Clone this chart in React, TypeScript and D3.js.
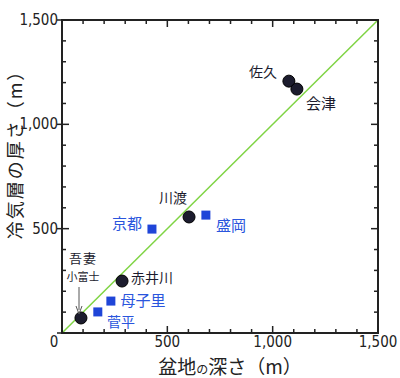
import React from "react";
import * as d3 from "d3";

const circleNames = ["佐久", "会津", "川渡", "赤井川", "吾妻小富士"];
const circleX = [1077, 1115, 603, 285, 90];
const circleY = [1207, 1169, 556, 249, 72];

const squareNames = ["京都", "盛岡", "母子里", "菅平"];
const squareX = [427, 683, 232, 170];
const squareY = [498, 565, 153, 101];

const xTickLabels = ["0", "500", "1,000", "1,500"];
const yTickLabels = ["", "500", "1,000", "1,500"];
const majorTicks = [0, 500, 1000, 1500];
const minorTicks = d3.range(0, 1501, 100);

const W = 400, H = 378;
const left = 62, right = 378, top = 20, bottom = 333;

export default function App() {
  const x = d3.scaleLinear().domain([0, 1500]).range([left, right]);
  const y = d3.scaleLinear().domain([0, 1500]).range([bottom, top]);
  const axisColor = "#222";
  const tickFont = "'Liberation Sans Narrow', 'DejaVu Sans Condensed', 'Liberation Sans', sans-serif";
  const jp = "'Noto Sans CJK JP', sans-serif";
  const blue = "#1f45d8";
  const textBlue = "#2a55dd";
  const ink = "#1c1c2e";

  const labelPos: Record<string, [number, number, number]> = {
    "佐久": [263, 77, 14],
    "会津": [321, 109, 15],
    "川渡": [173, 203, 14],
    "赤井川": [152, 283, 14],
    "京都": [127, 229, 15],
    "盛岡": [231, 231, 15],
    "母子里": [143, 306, 15],
    "菅平": [121, 327, 14],
  };

  return (
    <svg width={W} height={H} style={{ position: "absolute", left: 0, top: 0, background: "#fff" }}>
      {/* diagonal */}
      <line x1={x(0)} y1={y(0)} x2={x(1500)} y2={y(1500)} stroke="#7fd444" strokeWidth={1.5} />
      {/* frame */}
      <rect x={left} y={top} width={right - left} height={bottom - top} fill="none" stroke={axisColor} strokeWidth={2} />
      {/* ticks */}
      {minorTicks.map((t) => {
        const major = t % 500 === 0;
        const len = major ? 7 : 4;
        return (
          <g key={t} stroke={axisColor} strokeWidth={1.5}>
            <line x1={x(t)} y1={bottom} x2={x(t)} y2={bottom - len} />
            <line x1={x(t)} y1={top} x2={x(t)} y2={top + len} />
            <line x1={left} y1={y(t)} x2={left + len} y2={y(t)} />
            <line x1={right} y1={y(t)} x2={right - len} y2={y(t)} />
            {major && <line x1={left - 5} y1={y(t)} x2={left} y2={y(t)} />}
          </g>
        );
      })}
      {majorTicks.map((t, i) => (
        <text key={"xl" + t} x={x(t) - (i === 0 ? 8 : 0)} y={bottom + 14} textAnchor="middle" fontFamily={tickFont} fontSize={15} fill={axisColor}>
          {xTickLabels[i]}
        </text>
      ))}
      {majorTicks.map((t, i) => (
        <text key={"yl" + t} x={left - 4} y={y(t) + 5} textAnchor="end" fontFamily={tickFont} fontSize={15} fill={axisColor}>
          {yTickLabels[i]}
        </text>
      ))}
      {/* axis titles */}
      <text x={230} y={374} textAnchor="middle" fontFamily={jp} fontSize={19} fill={axisColor}>
        盆地<tspan fontSize={12}>の</tspan>深さ（m）
      </text>
      <text transform="translate(22,150) rotate(-90)" textAnchor="middle" fontFamily={jp} fontSize={18} letterSpacing={2} fill={axisColor}>
        冷気層の厚さ（m）
      </text>
      {/* squares */}
      {squareNames.map((n, i) => (
        <rect key={n} x={x(squareX[i]) - 4.5} y={y(squareY[i]) - 4.5} width={9} height={9} fill={blue} />
      ))}
      {/* circles */}
      {circleNames.map((n, i) => (
        <circle key={n} cx={x(circleX[i])} cy={y(circleY[i])} r={6} fill={ink} stroke="#000" strokeWidth={1} />
      ))}
      {/* labels */}
      {circleNames.concat(squareNames).map((n) => {
        const p = labelPos[n];
        if (!p) return null;
        const isBlue = squareNames.includes(n);
        return (
          <text key={"t" + n} x={p[0]} y={p[1]} textAnchor="middle" fontFamily={jp} fontSize={p[2]} fill={isBlue ? textBlue : ink}>
            {n}
          </text>
        );
      })}
      <text x={83} y={263} textAnchor="middle" fontFamily={jp} fontSize={13} letterSpacing={1} fill={ink}>吾妻</text>
      <text x={83} y={281} textAnchor="middle" fontFamily={jp} fontSize={11} fill={ink}>小富士</text>
      {/* arrow */}
      <line x1={79} y1={287} x2={79} y2={310} stroke="#555" strokeWidth={1} />
      <path d="M76,306 L79,314 L82,306" fill="none" stroke="#555" strokeWidth={1} />
    </svg>
  );
}
